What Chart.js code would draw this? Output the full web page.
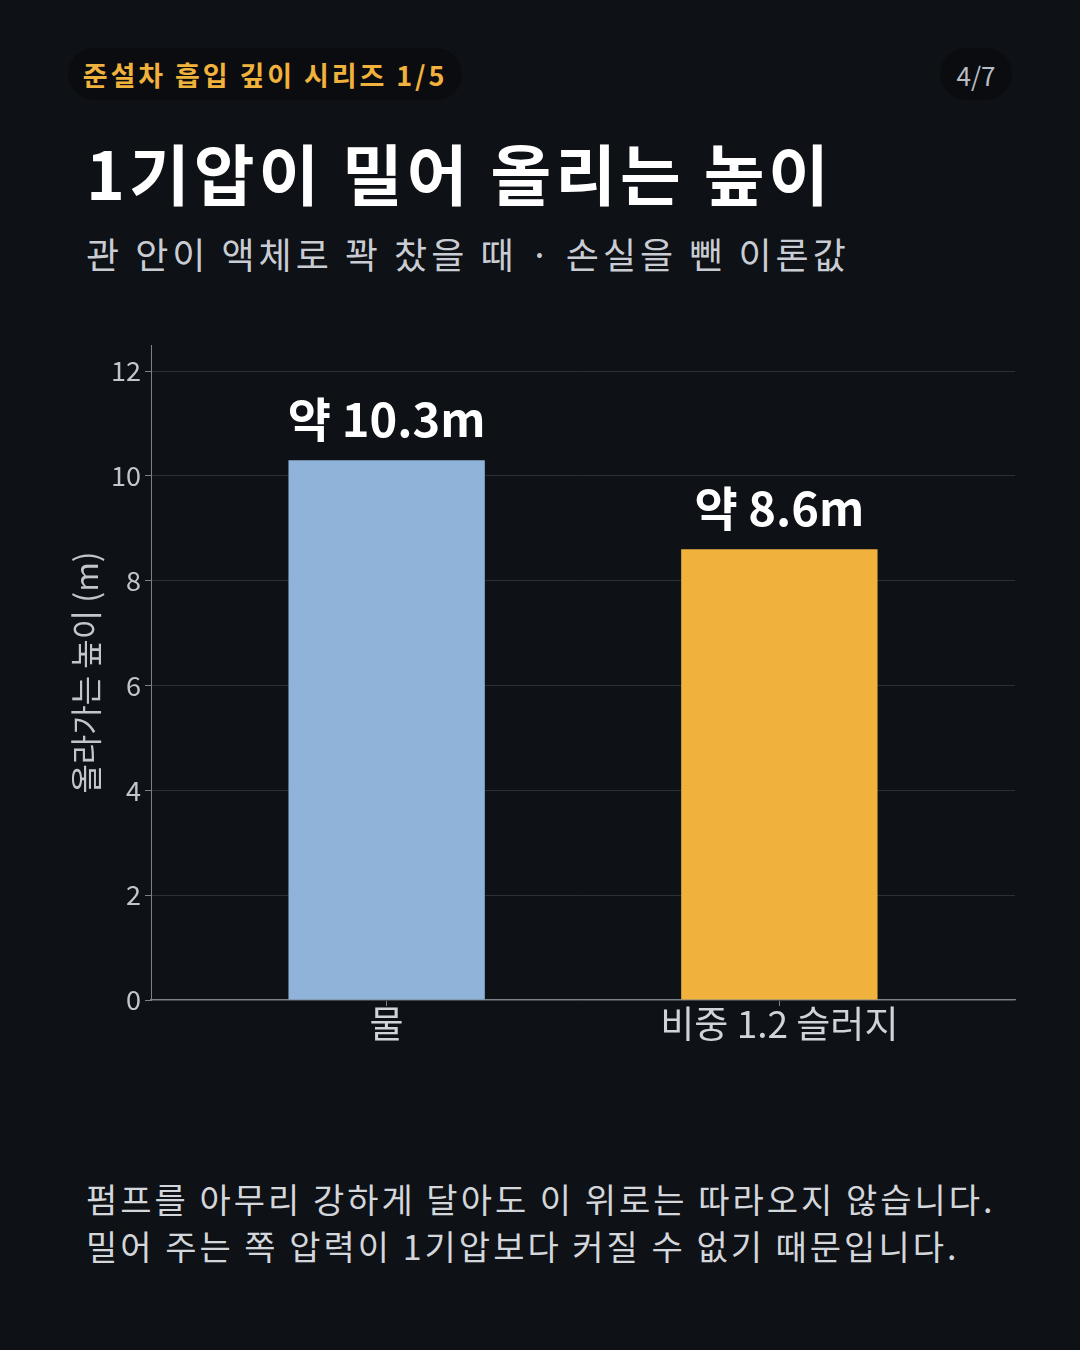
<!DOCTYPE html>
<html><head><meta charset="utf-8">
<script src="https://cdn.jsdelivr.net/npm/chart.js@4/dist/chart.umd.min.js"></script>
<style>
html,body{margin:0;padding:0;background:#0e1116;}
body{width:1080px;height:1350px;position:relative;overflow:hidden;font-family:"Noto Sans CJK KR","Noto Sans",sans-serif;}
.pill{position:absolute;top:48px;height:52px;border-radius:26px;background:#0a0c10;display:flex;align-items:center;justify-content:center;box-sizing:border-box;}
#series{left:68px;width:394px;color:#f0b23c;font-weight:700;font-size:27px;letter-spacing:2.9px;}
#page{left:940px;width:72px;color:#b7bcc4;font-size:26px;}
#title{position:absolute;left:86px;top:132px;color:#ffffff;font-weight:700;font-size:66px;line-height:1.2;letter-spacing:4px;}
#sub{position:absolute;left:86px;top:228px;color:#c9cdd3;font-size:36px;line-height:1.4;letter-spacing:4px;}
#foot{position:absolute;left:86px;top:1175px;color:#d3d6db;font-size:34px;line-height:47px;letter-spacing:3px;}
#wrap{position:absolute;left:60px;top:300px;width:1020px;height:770px;}
</style></head>
<body>
<div class="pill" id="series">준설차 흡입 깊이 시리즈 1/5</div>
<div class="pill" id="page">4/7</div>
<div id="title">1기압이 밀어 올리는 높이</div>
<div id="sub">관 안이 액체로 꽉 찼을 때 · 손실을 뺀 이론값</div>
<div id="wrap"><canvas id="c" width="1020" height="770"></canvas></div>
<div id="foot">펌프를 아무리 강하게 달아도 이 위로는 따라오지 않습니다.<br>밀어 주는 쪽 압력이 1기압보다 커질 수 없기 때문입니다.</div>
<script>
const categories = ["물", "비중 1.2 슬러지"];
const heights = [10.3, 8.6];
const valueLabels = ["약 10.3m", "약 8.6m"];
const barColors = ["#8fb3d9", "#f0b23c"];
const yTicks = [0, 2, 4, 6, 8, 10, 12];
const yTitle = "올라가는 높이 (m)";

const FONT = '"Noto Sans CJK KR","Noto Sans",sans-serif';

const labelPlugin = {
  id: 'valLabels',
  afterDatasetsDraw(chart) {
    const ctx = chart.ctx;
    const meta = chart.getDatasetMeta(0);
    ctx.save();
    ctx.fillStyle = '#ffffff';
    ctx.font = '700 47px ' + FONT;
    ctx.textAlign = 'center';
    ctx.textBaseline = 'bottom';
    meta.data.forEach((bar, i) => {
      ctx.fillText(valueLabels[i], bar.x, bar.y - 18);
    });
    ctx.restore();
  }
};

new Chart(document.getElementById('c'), {
  type: 'bar',
  data: {
    datasets: [{
      data: heights.map((v, i) => ({x: i, y: v})),
      backgroundColor: barColors,
      borderWidth: 0,
      barPercentage: 0.5,
      categoryPercentage: 1.0
    }]
  },
  options: {
    responsive: false,
    animation: false,
    devicePixelRatio: 1,
    layout: {padding: {top: 45, right: 65, left: 0, bottom: 0}},
    plugins: {legend: {display: false}, tooltip: {enabled: false}},
    scales: {
      x: {
        type: 'linear',
        min: -0.6, max: 1.6,
        offset: false,
        afterBuildTicks(scale) { scale.ticks = categories.map((c, i) => ({value: i})); },
        afterFit(scale) { scale.height = 70; },
        ticks: {
          callback: (v) => categories[v] ?? '',
          color: '#d0d3d8',
          font: {family: FONT, size: 37},
          padding: -4,
          maxRotation: 0
        },
        grid: {offset: false, drawOnChartArea: false, tickLength: 6, tickColor: '#7b828b'},
        border: {color: '#7b828b', width: 1.2}
      },
      y: {
        min: 0, max: 12.5,
        afterBuildTicks(scale) { scale.ticks = yTicks.map(v => ({value: v})); },
        afterFit(scale) { scale.width = 91; },
        ticks: {
          color: '#c2c6cc',
          font: {family: FONT, size: 27},
          padding: 4
        },
        grid: {color: '#2c3036', tickLength: 6, tickColor: '#7b828b', lineWidth: 1},
        border: {color: '#7b828b', width: 1},
        title: {
          display: true,
          text: yTitle,
          color: '#c2c6cc',
          font: {family: FONT, size: 32},
          padding: {top: 7, bottom: 0}
        }
      }
    }
  },
  plugins: [labelPlugin]
});
</script>
</body></html>
